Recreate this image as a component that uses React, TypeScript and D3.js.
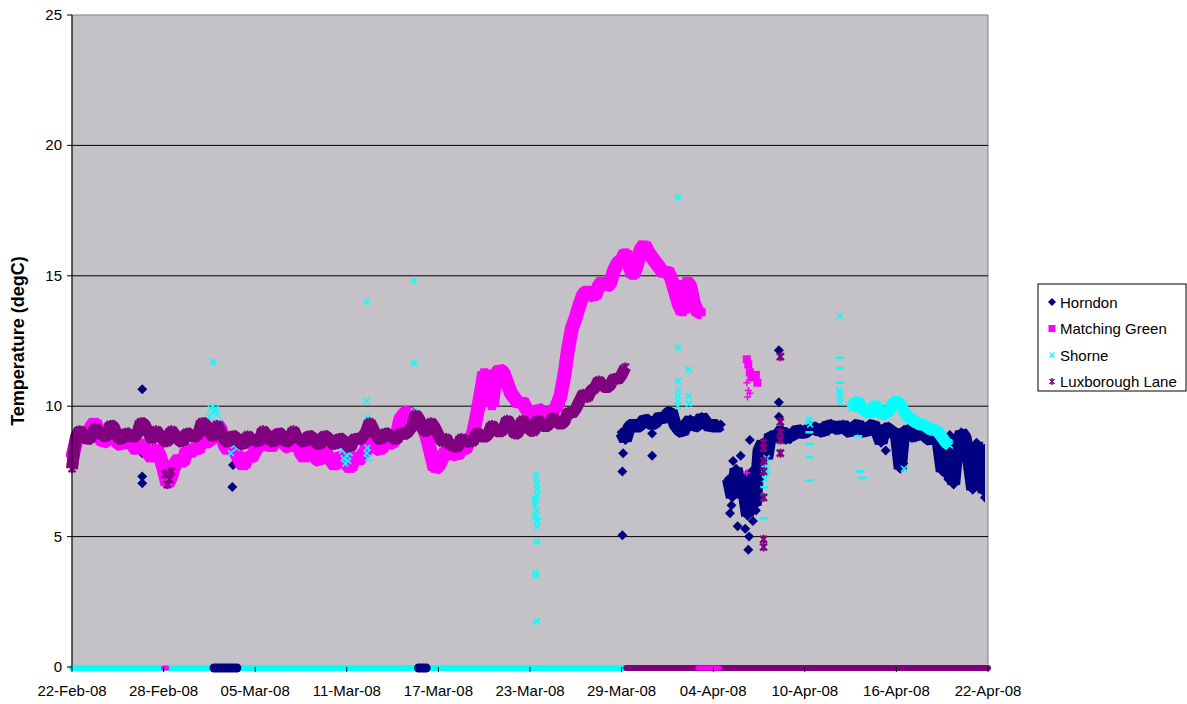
import React from "react";
import * as d3 from "d3";

// readings every 6 hours, first value at the series start day (days after 22-Feb-08)
const startDate = new Date(2008, 1, 22);
const stepDays = 0.25;
const spanDays = 60;
const tickEvery = 6;
const yTicks = [0, 5, 10, 15, 20, 25];

const seriesNames = ["Horndon", "Matching Green", "Shorne", "Luxborough Lane"];
const seriesColors = ["#000080", "#ff00ff", "#00ffff", "#800080"];

const horndonStart = 36;
// prettier-ignore
const horndonValues = [
  9.0, 8.7, 9.2, 9.3,  9.2, 9.3, 9.5, 9.4,  9.3, 9.4, 9.6, 9.5,  9.7, 9.8, 9.3, 9.1,
  9.0, 9.3, 9.5, 9.2,  9.3, 9.6, 9.4, 9.2,  9.3, 9.2, 9.3, null, 7.2, 6.5, 7.6, 7.0,
  6.8, 5.8, 7.5, 6.2,  8.3, 8.6, 8.0, 8.9,  8.8, 8.9, 9.1, 8.7,  8.9, 8.9, 9.1, 9.0,
  9.0, 9.1, 9.2, 9.1,  9.1, 9.0, 9.3, 9.2,  9.2, 9.1, 9.3, 9.1,  9.0, 9.2, 9.3, 9.1,
  9.0, 9.2, 9.3, 9.0,  8.6, 9.2, 9.1, 9.0,  8.9, 7.6, 9.1, 9.0,  8.9, 8.8, 9.1, 9.0,
  8.8, 8.7, 8.9, 8.6,  7.5, 8.4, 8.9, 7.0,  8.5, 9.0, 8.8, 7.9,  6.8, 8.6, 7.5, 6.7,
  8.5,
];
// prettier-ignore
const horndonScatter: [number, number][] = [
  [4.6, 10.65], [4.6, 7.3], [4.6, 7.05], [4.6, 8.2], [10.5, 6.9], [10.55, 7.75],
  [36.05, 5.05], [36.05, 7.5], [36.1, 8.2], [38.0, 8.1], [38.0, 8.95],
  [43.1, 5.9], [43.2, 6.2], [43.3, 7.9], [43.6, 5.4], [43.8, 8.1], [44.1, 5.3],
  [44.3, 4.5], [44.35, 5.0], [44.4, 8.7], [44.6, 5.6], [44.8, 6.0], [45.1, 7.2],
  [46.3, 12.15], [46.3, 10.15], [46.3, 9.6], [53.3, 8.3], [54.4, 8.0], [54.45, 7.8],
  [57.1, 7.8], [57.2, 7.4], [57.4, 7.2], [58.7, 7.6], [58.8, 8.2], [59.2, 7.0],
  [59.3, 7.9], [59.6, 7.0], [59.7, 7.3], [59.8, 6.5], [59.8, 7.9],
];
const horndonZeroSpans: [number, number][] = [[9.3, 10.8], [22.7, 23.2]];

const greenStart = 0;
// prettier-ignore
const greenValues = [
  8.0, 8.6, 9.0, 8.8,  8.9, 9.2, 9.4, 9.0,  8.6, 8.7, 9.1, 8.8,  8.6, 8.5, 8.8, 8.7,
  8.5, 8.3, 8.6, 8.4,  8.2, 8.0, 8.4, 8.1,  7.6, 7.0, 7.3, 7.8,  8.0, 7.8, 8.3, 8.2,
  8.4, 8.3, 8.7, 8.6,  8.7, 8.8, 9.3, 9.1,  8.5, 8.3, 8.6, 8.2,  7.9, 7.7, 8.1, 8.0,
  8.3, 8.5, 8.9, 8.7,  8.4, 8.6, 9.0, 8.8,  8.5, 8.4, 8.8, 8.6,  8.2, 8.0, 8.4, 8.2,
  8.0, 7.9, 8.3, 8.1,  7.9, 7.7, 8.1, 8.0,  7.8, 7.6, 8.1, 7.9,  8.1, 8.3, 8.9, 8.6,
  8.4, 8.3, 8.8, 8.6,  8.6, 8.8, 9.5, 9.7,  9.8, 9.6, 9.4, 9.3,  9.2, 8.8, 8.2, 7.6,
  7.7, 8.0, 8.3, 8.2,  8.2, 8.1, 8.4, 8.3,  8.7, 8.9, 9.6, 10.4, 11.3, 11.0, 10.0, 11.2,
  11.4, 11.3, 10.9, 10.5, 10.3, 10.1, 10.2, 9.9, 9.8, 9.6, 9.9, 9.8, 9.6, 9.5, 9.8, 10.0,
  10.4, 11.2, 12.2, 13.0, 13.4, 13.9, 14.3, 14.4, 14.3, 14.2, 14.6, 14.8, 14.6, 14.7, 15.2, 15.5,
  15.6, 15.9, 15.4, 15.0, 15.4, 16.0, 16.2, 15.9, 15.7, 15.5, 15.3, 15.1, 15.2, 14.9, 14.4, 13.9,
  13.6, 14.8, 14.6, 13.9, 13.6, 13.6,
];
// prettier-ignore
const greenScatter: [number, number][] = [
  [44.2, 11.8], [44.3, 11.6], [44.4, 11.3], [44.5, 11.1], [44.8, 11.2], [44.9, 10.9],
];
const greenCrosses: [number, number][] = [[44.2, 10.9], [44.3, 10.6], [44.25, 10.35], [44.4, 10.5], [44.2, 7.45]];
const greenZeroSpans: [number, number][] = [[6.0, 6.2], [41.0, 42.4]];

const shorneStart = 51;
// prettier-ignore
const shorneValues = [
  9.9, 10.1, 10.2, 9.9,  9.8, 9.7, 10.0, 10.0,  9.7, 9.7, 9.8, 10.1,  10.2, 10.1, 9.8, 9.6,
  9.5, 9.4, 9.3, 9.3,  9.2, 9.1, 9.1, 9.0,  8.8, 8.6, 8.5,
];
// prettier-ignore
const shorneScatter: [number, number][] = [
  [9.0, 9.6], [9.1, 9.9], [9.2, 10.0], [9.25, 11.7], [9.3, 9.8], [9.4, 9.9], [9.5, 9.7],
  [9.6, 9.4], [9.7, 9.2], [9.8, 9.1], [10.4, 8.2], [10.6, 8.5], [10.8, 8.4], [10.9, 8.6],
  [17.7, 8.3], [17.8, 8.0], [17.9, 7.8], [18.0, 8.1], [18.1, 7.9], [18.2, 8.2],
  [19.3, 14.0], [19.3, 10.2], [19.3, 9.55], [19.35, 8.4], [19.4, 8.0], [19.3, 8.2],
  [22.4, 14.8], [22.4, 11.65], [22.4, 9.8],
  [30.4, 7.4], [30.4, 7.2], [30.45, 7.0], [30.5, 6.8], [30.45, 6.6], [30.4, 6.4], [30.35, 6.2],
  [30.45, 6.0], [30.4, 5.8], [30.5, 5.6], [30.45, 5.4], [30.3, 6.45], [30.3, 5.75],
  [30.45, 4.8], [30.35, 3.6], [30.4, 3.5], [30.45, 1.75],
  [39.7, 18.0], [39.7, 12.25], [39.7, 10.95], [39.7, 10.6], [39.7, 10.4], [39.7, 10.2], [39.7, 10.0],
  [40.4, 11.4], [40.4, 10.4], [40.4, 10.1],
  [45.3, 7.9], [45.35, 7.6], [45.4, 7.4], [45.45, 7.8], [45.5, 8.0], [45.55, 7.5], [45.4, 7.2],
  [48.25, 9.4], [48.35, 9.3], [48.3, 9.5], [50.3, 13.45], [50.25, 10.6], [50.3, 10.3],
  [50.35, 10.15], [50.3, 10.5], [54.5, 7.6],
];
// prettier-ignore
const shorneDashes: [number, number][] = [
  [45.35, 6.9], [45.35, 6.6], [45.3, 5.7], [48.3, 9.0], [48.3, 8.55], [48.3, 8.05], [48.3, 7.15],
  [50.3, 11.85], [50.3, 11.45], [50.3, 10.9], [51.5, 8.85], [51.6, 7.5], [51.8, 7.25],
];
const shorneZeroSpans: [number, number][] = [[0, 36.3]];

const luxStart = 0;
// prettier-ignore
const luxValues = [
  7.6, 8.8, 9.1, 8.9,  8.7, 8.8, 9.2, 9.0,  8.9, 8.8, 9.3, 9.2,  8.8, 8.7, 9.0, 8.9,
  8.8, 8.9, 9.4, 9.3,  9.0, 8.7, 9.1, 8.9,  8.7, 8.6, 9.1, 8.9,  8.7, 8.6, 9.0, 8.9,
  8.8, 8.9, 9.4, 9.3,  9.0, 8.8, 9.3, 9.0,  8.7, 8.6, 8.9, 8.8,  8.6, 8.5, 8.9, 8.7,
  8.7, 8.6, 9.1, 8.9,  8.7, 8.6, 9.0, 8.9,  8.6, 8.7, 9.1, 8.8,  8.7, 8.6, 8.9, 8.8,
  8.6, 8.5, 8.9, 8.8,  8.6, 8.5, 8.8, 8.7,  8.5, 8.4, 8.8, 8.7,  8.8, 9.0, 9.4, 9.1,
  8.8, 8.7, 9.0, 8.9,  8.8, 8.7, 9.0, 8.9,  9.0, 9.2, 9.7, 9.5,  9.1, 9.0, 9.4, 9.2,
  8.9, 8.6, 8.8, 8.5,  8.5, 8.4, 8.8, 8.6,  8.7, 8.6, 9.0, 8.9,  8.8, 8.9, 9.3, 9.1,
  9.0, 9.1, 9.5, 9.3,  8.9, 9.0, 9.5, 9.3,  9.1, 9.0, 9.5, 9.3,  9.2, 9.3, 9.6, 9.4,
  9.3, 9.4, 9.8, 9.7,  9.9, 10.2, 10.5, 10.3,  10.6, 10.7, 11.0, 10.8,  10.7, 10.8, 11.1, 11.0,
  11.2, 11.5,
];
// prettier-ignore
const luxScatter: [number, number][] = [
  [6.1, 7.4], [6.25, 7.0], [6.4, 7.2], [6.5, 7.5],
  [45.3, 8.6], [45.3, 8.4], [45.3, 7.9], [45.3, 7.5], [45.3, 6.5], [45.3, 4.9], [45.3, 4.6],
  [46.4, 11.9], [46.4, 9.4], [46.4, 9.0], [46.4, 8.7], [46.4, 8.2],
];
const luxZeroSpans: [number, number][] = [[36.3, 60]];

const W = 1187;
const H = 704;
const plot = { left: 72, right: 988, top: 15, bottom: 667 };
const font = "'Liberation Sans', Arial, sans-serif";

const dayToDate = (d: number) => new Date(startDate.getTime() + d * 864e5);
const toPoints = (start: number, values: (number | null)[]) =>
  values.map((v, i) => [start + i * stepDays, v] as [number, number | null]);

const diamond = (r: number) => `M0,${-r}L${r},0L0,${r}L${-r},0Z`;
const cross = (r: number) => `M${-r},${-r}L${r},${r}M${-r},${r}L${r},${-r}`;
const asterisk = (r: number) => `M${-r},${-r}L${r},${r}M${-r},${r}L${r},${-r}M0,${-r - 1}L0,${r + 1}`;
const plus = (r: number) => `M${-r},0L${r},0M0,${-r}L0,${r}`;

const App = () => {
  const x = d3.scaleTime().domain([startDate, dayToDate(spanDays)]).range([plot.left, plot.right]);
  const y = d3.scaleLinear().domain([0, 25]).range([plot.bottom, plot.top]);
  const fmt = d3.timeFormat("%d-%b-%y");
  const xTicks = d3.range(0, spanDays + 1, tickEvery).map(dayToDate);
  const px = (d: number) => x(dayToDate(d));

  // the logger wrote readings so densely that each series reads as a solid band
  const band = d3
    .line<[number, number | null]>()
    .defined(p => p[1] != null)
    .x(p => px(p[0]))
    .y(p => y(p[1] as number));

  const horndonBand = toPoints(horndonStart, horndonValues);
  const greenBand = toPoints(greenStart, greenValues);
  const shorneBand = toPoints(shorneStart, shorneValues);
  const luxBand = toPoints(luxStart, luxValues);

  const only = (pts: [number, number | null][]) => pts.filter(p => p[1] != null) as [number, number][];
  const horndon = [...only(horndonBand), ...horndonScatter];
  const green = [...only(greenBand), ...greenScatter];
  const shorne = [...only(shorneBand), ...shorneScatter];
  const lux = [...only(luxBand), ...luxScatter];

  const zeroLine = (spans: [number, number][], color: string, w: number, key: string) =>
    spans.map(([a, b], i) => (
      <line
        key={key + i}
        x1={px(a)}
        x2={px(b)}
        y1={y(0) + 1}
        y2={y(0) + 1}
        stroke={color}
        strokeWidth={w}
        strokeLinecap="round"
      />
    ));

  const bandPath = (pts: [number, number | null][], color: string, w: number) => (
    <path d={band(pts) ?? ""} fill="none" stroke={color} strokeWidth={w} strokeLinejoin="bevel" />
  );

  return (
    <div style={{ position: "absolute", left: 0, top: 0 }}>
      <svg width={W} height={H} style={{ display: "block", background: "#fff", fontFamily: font }}>
        <defs>
          <clipPath id="plot-clip">
            <rect x={plot.left - 6} y={plot.top} width={plot.right - plot.left + 3} height={plot.bottom - plot.top} />
          </clipPath>
        </defs>
        <rect
          x={plot.left}
          y={plot.top}
          width={plot.right - plot.left}
          height={plot.bottom - plot.top}
          fill="#c4c2c6"
          stroke="#808080"
        />
        {yTicks
          .filter(t => t > 0 && t < 25)
          .map(t => (
            <line key={t} x1={plot.left} x2={plot.right} y1={y(t)} y2={y(t)} stroke="#000" />
          ))}

        {/* series, in Excel drawing order */}
        <g clipPath="url(#plot-clip)">
          <g>
            {bandPath(horndonBand, seriesColors[0], 13)}
            {horndon.map(([d, v], i) => (
              <path key={i} d={diamond(5)} transform={`translate(${px(d)},${y(v)})`} fill={seriesColors[0]} />
            ))}
          </g>
          <g>
            {bandPath(greenBand, seriesColors[1], 14)}
            {green.map(([d, v], i) => (
              <rect key={i} x={px(d) - 4} y={y(v) - 4} width={8} height={8} fill={seriesColors[1]} />
            ))}
            {greenCrosses.map(([d, v], i) => (
              <path key={i} d={plus(3.5)} transform={`translate(${px(d)},${y(v)})`} stroke={seriesColors[1]} strokeWidth={1.5} fill="none" />
            ))}
          </g>
          <g>
            {bandPath(shorneBand, seriesColors[2], 12)}
            {shorne.map(([d, v], i) => (
              <path key={i} d={cross(3)} transform={`translate(${px(d)},${y(v)})`} stroke={seriesColors[2]} strokeWidth={1.6} fill="none" />
            ))}
            {shorneDashes.map(([d, v], i) => (
              <path key={i} d="M-4,0L4,0" transform={`translate(${px(d)},${y(v)})`} stroke={seriesColors[2]} strokeWidth={2.5} />
            ))}
          </g>
          <g>
            {bandPath(luxBand, seriesColors[3], 12)}
            {lux.map(([d, v], i) => (
              <path key={i} d={asterisk(3.5)} transform={`translate(${px(d)},${y(v)})`} stroke={seriesColors[3]} strokeWidth={2.2} fill="none" />
            ))}
          </g>
        </g>

        {/* zero readings along the axis */}
        {zeroLine(shorneZeroSpans, seriesColors[2], 6, "s")}
        {zeroLine(luxZeroSpans, seriesColors[3], 6, "l")}
        {zeroLine(greenZeroSpans, seriesColors[1], 5, "g")}
        {zeroLine(horndonZeroSpans, seriesColors[0], 9, "h")}

        {/* axes */}
        <line x1={plot.left} x2={plot.left} y1={plot.top} y2={plot.bottom} stroke="#000" />
        {yTicks.map(t => (
          <g key={t}>
            <line x1={plot.left - 5} x2={plot.left} y1={y(t)} y2={y(t)} stroke="#000" />
            <text x={plot.left - 10} y={y(t) + 5} textAnchor="end" fontSize={15}>
              {t}
            </text>
          </g>
        ))}
        {xTicks.map((t, i) => (
          <g key={i}>
            <line x1={x(t)} x2={x(t)} y1={plot.bottom} y2={plot.bottom + 5} stroke="#000" />
            <text x={x(t)} y={plot.bottom + 29} textAnchor="middle" fontSize={15}>
              {fmt(t)}
            </text>
          </g>
        ))}
        <text
          transform={`translate(24,${(plot.top + plot.bottom) / 2}) rotate(-90)`}
          textAnchor="middle"
          fontSize={18}
          fontWeight="bold"
        >
          Temperature (degC)
        </text>

        {/* legend */}
        <g transform="translate(1038,284)">
          <rect x={0} y={0} width={148} height={107} fill="#fff" stroke="#000" />
          {seriesNames.map((name, i) => {
            const cy = 18 + i * 26.5;
            return (
              <g key={name} transform={`translate(14,${cy})`}>
                {i === 0 && <path d={diamond(4)} fill={seriesColors[0]} />}
                {i === 1 && <rect x={-3.5} y={-3.5} width={7} height={7} fill={seriesColors[1]} />}
                {i === 2 && <path d={cross(2.5)} stroke={seriesColors[2]} strokeWidth={1.3} fill="none" />}
                {i === 3 && <path d={asterisk(2.5)} stroke={seriesColors[3]} strokeWidth={1.3} fill="none" />}
                <text x={8} y={5.5} fontSize={15}>
                  {name}
                </text>
              </g>
            );
          })}
        </g>
      </svg>
    </div>
  );
};

export default App;
